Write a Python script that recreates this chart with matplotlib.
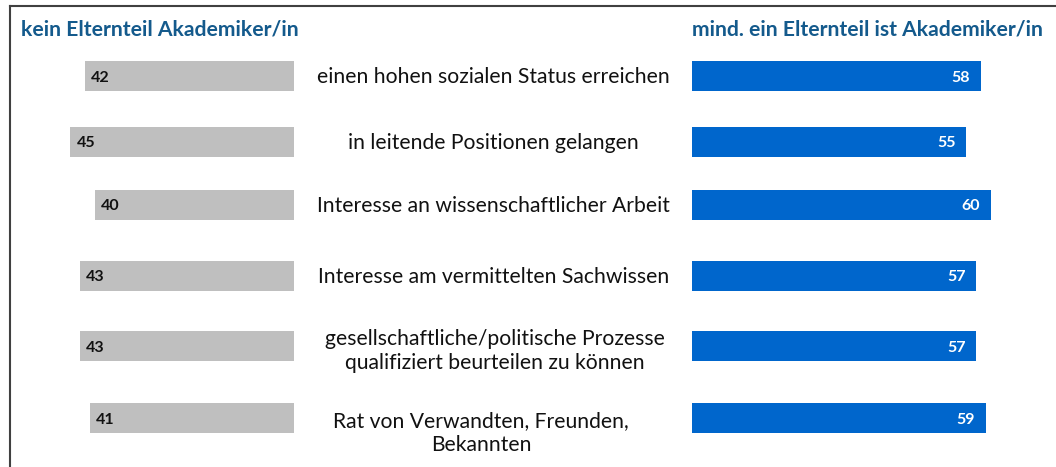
import matplotlib
matplotlib.use("Agg")
import matplotlib.pyplot as plt
from matplotlib.lines import Line2D

# ---- data ----
categories = [
    "einen hohen sozialen Status erreichen",
    "in leitende Positionen gelangen",
    "Interesse an wissenschaftlicher Arbeit",
    "Interesse am vermittelten Sachwissen",
    "gesellschaftliche/politische Prozesse\nqualifiziert beurteilen zu können",
    "Rat von Verwandten, Freunden,\nBekannten",
]
kein_akademiker = [42, 45, 40, 43, 43, 41]
akademiker = [58, 55, 60, 57, 57, 59]
header_left = "kein Elternteil Akademiker/in"
header_right = "mind. ein Elternteil ist Akademiker/in"

# ---- layout (pixels) ----
W, H = 1056, 467
px_per_unit = 4.98
row_y = [76, 141.5, 204.5, 275.5, 346, 418]
label_y = [77, 143, 206, 277, 351, 433]
label_x = [493, 493.5, 493.5, 493.5, 494.5, 481]
bar_h = 30
left_end = 294
right_start = 692

FONT = "Lato"
header_color = "#145A8C"
gray = "#BFBFBF"
blue = "#0066CC"

fig = plt.figure(figsize=(W / 100, H / 100), dpi=100)

# left (gray) bars growing leftwards
axL = fig.add_axes([0, 0, left_end / W, 1])
axL.set_xlim(left_end / px_per_unit, 0)
axL.set_ylim(H, 0)
axL.axis("off")
axL.barh(row_y, kein_akademiker, height=bar_h, color=gray)
for y, v in zip(row_y, kein_akademiker):
    axL.annotate(str(v), xy=(v, y), xytext=(6.5, -1.5), textcoords="offset pixels",
                 ha="left", va="center", fontsize=11.5, fontweight="bold",
                 color="#111111", family=FONT)

# right (blue) bars growing rightwards
axR = fig.add_axes([right_start / W, 0, (W - right_start) / W, 1])
axR.set_xlim(0, (W - right_start) / px_per_unit)
axR.set_ylim(H, 0)
axR.axis("off")
axR.barh(row_y, akademiker, height=bar_h, color=blue)
for y, v in zip(row_y, akademiker):
    axR.annotate(str(v), xy=(v, y), xytext=(-10.5, -1.5), textcoords="offset pixels",
                 ha="right", va="center", fontsize=11.5, fontweight="bold",
                 color="white", family=FONT)

# center labels
for x, y, t in zip(label_x, label_y, categories):
    fig.text(x / W, 1 - y / H, t, ha="center", va="center", multialignment="center",
             fontsize=15.2, color="#111111", family=FONT, linespacing=1.3)

# headers
fig.text(21 / W, 1 - 29 / H, header_left, ha="left", va="center", fontsize=15.2,
         fontweight="bold", color=header_color, family=FONT)
fig.text(692 / W, 1 - 29 / H, header_right, ha="left", va="center", fontsize=15.2,
         fontweight="bold", color=header_color, family=FONT)

# frame lines (left and top)
fig.add_artist(Line2D([9.5 / W, 9.5 / W], [0, 1 - 6 / H], transform=fig.transFigure,
                      color="#404040", lw=1.5))
fig.add_artist(Line2D([9.5 / W, 1], [1 - 6 / H, 1 - 6 / H], transform=fig.transFigure,
                      color="#404040", lw=1.5))

fig.savefig("out.png", dpi=100)
